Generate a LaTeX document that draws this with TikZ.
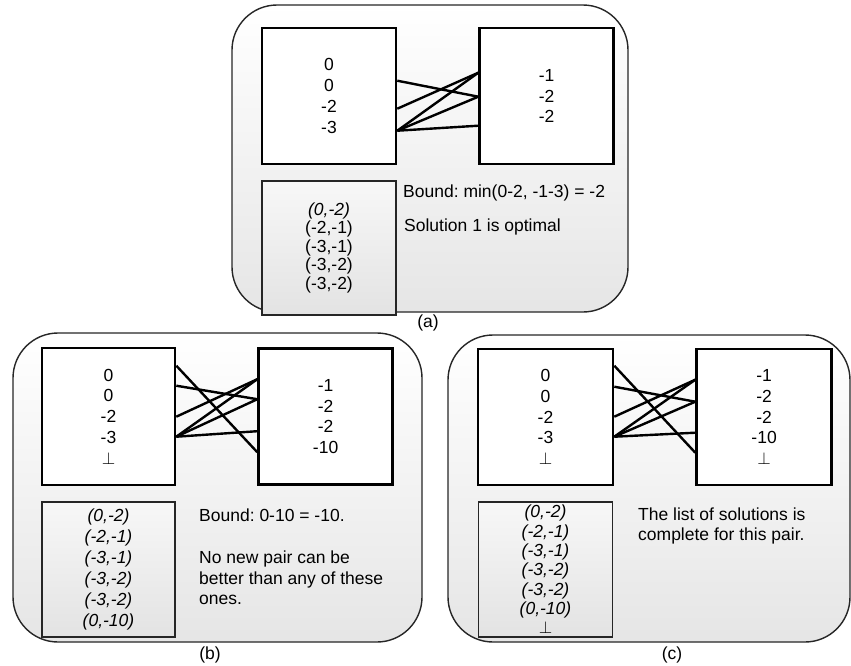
\documentclass[tikz,border=0pt]{standalone}
\usepackage{fontspec}
\setmainfont{Liberation Sans}
\usetikzlibrary{positioning,calc}
\frenchspacing

\begin{document}
\begin{tikzpicture}[
    x=1pt, y=-1pt,
    font=\fontsize{17.5}{20.7}\selectfont,
    panel/.style={
        draw=black!85,
        line width=1.4pt,
        rounded corners=45pt,
        top color=white,
        bottom color=gray!20,
        inner sep=0pt
    },
    valbox/.style={
        draw,
        line width=2.6pt,
        fill=white,
        minimum width=134pt,
        minimum height=136pt,
        align=center,
        inner sep=0pt
    },
    solbox/.style={
        draw=black!85,
        line width=1.3pt,
        top color=gray!6,
        bottom color=gray!22,
        minimum width=134pt,
        minimum height=134pt,
        align=center,
        inner sep=0pt
    },
    note/.style={anchor=west, align=left, inner sep=0pt},
    captext/.style={inner sep=0pt},
    link/.style={line width=2.4pt}
]
\useasboundingbox (0,0) rectangle (851,665);

% ============================================================
% (a)
% ============================================================
\node[panel, minimum width=396pt, minimum height=307pt] (apanel) at (430,158.5) {};
\node[valbox] (aleft) at (329,96) {0\\0\\-2\\-3};
\node[valbox, right=81pt of aleft] (aright) {-1\\-2\\-2};
\node[solbox, below=15pt of aleft, font=\fontsize{17.5}{18.5}\selectfont] (asol)
    {\textit{(0,-2)}\\(-2,-1)\\(-3,-1)\\(-3,-2)\\(-3,-2)};
\node[note] (abound) at (403,193) {Bound: min(0-2, -1-3) = -2};
\node[note] (aopt) at (404,227) {Solution 1 is optimal};
\node[captext] (acap) at (428,323) {(a)};

\foreach \p/\d in {1/54,2/82,3/104}
    \coordinate (aL\p) at ($(aleft.north east)+(0,\d)$);
\foreach \p/\d in {1/46,2/70,3/99}
    \coordinate (aR\p) at ($(aright.north west)+(0,\d)$);

\draw[link] (aL1) -- (aR2);
\draw[link] (aL2) -- (aR1);
\draw[link] (aL3) -- (aR1);
\draw[link] (aL3) -- (aR2);
\draw[link] (aL3) -- (aR3);

% ============================================================
% (b)
% ============================================================
\node[panel, minimum width=409pt, minimum height=309pt] (bpanel) at (217.5,487.5) {};
\node[valbox, minimum width=133pt, minimum height=137pt] (bleft) at (108.5,416.5)
    {0\\0\\-2\\-3\\$\perp$};
\node[valbox, right=81pt of bleft] (bright) {-1\\-2\\-2\\-10};
\node[solbox, below=15pt of bleft, minimum width=133pt, minimum height=135pt,
      font=\fontsize{17.5}{21}\selectfont\itshape] (bsol)
    {(0,-2)\\(-2,-1)\\(-3,-1)\\(-3,-2)\\(-3,-2)\\(0,-10)};
\node[note] (bbound) at (199,515) {Bound: 0-10 = -10.};
\node[note] (bmsg) at (199,578) {No new pair can be\\better than any of these\\ones.};
\node[captext] (bcap) at (210,655) {(b)};

\foreach \p/\d in {1/19,2/39,3/70,4/90}
    \coordinate (bL\p) at ($(bleft.north east)+(0,\d)$);
\foreach \p/\d in {1/32,2/52,3/84,4/105}
    \coordinate (bR\p) at ($(bright.north west)+(0,\d)$);

\draw[link] (bL1) -- (bR4);
\draw[link] (bL2) -- (bR2);
\draw[link] (bL3) -- (bR1);
\draw[link] (bL4) -- (bR1);
\draw[link] (bL4) -- (bR2);
\draw[link] (bL4) -- (bR3);

% ============================================================
% (c)
% ============================================================
\node[panel, minimum width=402pt, minimum height=307pt] (cpanel) at (649,488.5) {};
\node[valbox, minimum width=135pt] (cleft) at (545.5,417)
    {0\\0\\-2\\-3\\$\perp$};
\node[valbox, minimum width=135pt, right=81pt of cleft] (cright)
    {-1\\-2\\-2\\-10\\$\perp$};
\node[solbox, below=15pt of cleft, minimum width=134pt, minimum height=135pt,
      font=\fontsize{17.5}{19.3}\selectfont\itshape] (csol)
    {(0,-2)\\(-2,-1)\\(-3,-1)\\(-3,-2)\\(-3,-2)\\(0,-10)\\$\perp$};
\node[note] (cmsg) at (638,526) {The list of solutions is\\complete for this pair.};
\node[captext] (ccap) at (672,655) {(c)};

\foreach \p/\d in {1/18,2/39,3/69,4/89}
    \coordinate (cL\p) at ($(cleft.north east)+(0,\d)$);
\foreach \p/\d in {1/32,2/54,3/85,4/105}
    \coordinate (cR\p) at ($(cright.north west)+(0,\d)$);

\draw[link] (cL1) -- (cR4);
\draw[link] (cL2) -- (cR2);
\draw[link] (cL3) -- (cR1);
\draw[link] (cL4) -- (cR1);
\draw[link] (cL4) -- (cR2);
\draw[link] (cL4) -- (cR3);

\end{tikzpicture}
\end{document}
